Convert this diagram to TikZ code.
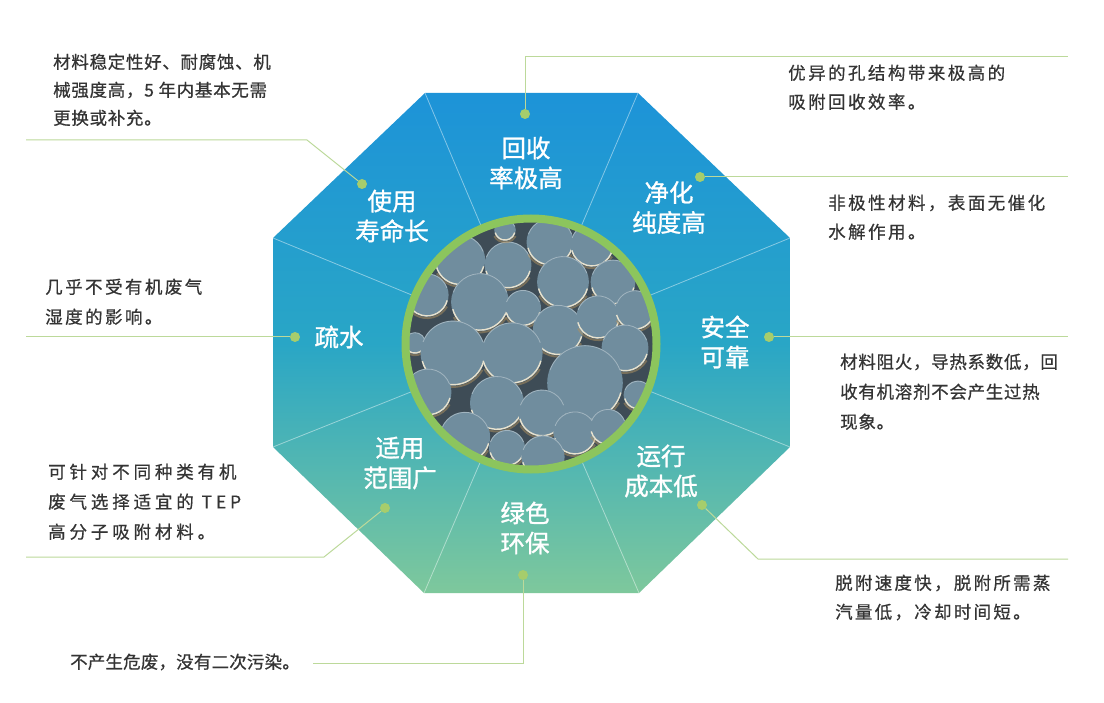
\documentclass[tikz,border=0pt]{standalone}
\usepackage{fontspec}
\setmainfont{Noto Sans CJK SC}
\definecolor{octtop}{RGB}{29,147,216}
\definecolor{octmid}{RGB}{41,166,198}
\definecolor{octbot}{RGB}{126,200,156}
\definecolor{photobg}{RGB}{62,76,86}
\definecolor{ballcol}{RGB}{112,141,158}
\definecolor{rimcol}{RGB}{232,226,206}
\definecolor{glowcol}{RGB}{176,146,96}
\definecolor{ringgreen}{RGB}{140,197,93}
\definecolor{dotgreen}{RGB}{166,205,108}
\definecolor{leadgreen}{RGB}{188,217,154}
\definecolor{desctext}{RGB}{52,52,52}
\newcommand{\descfont}[2]{\fontsize{17.5}{#2}\selectfont\addfontfeatures{LetterSpace=#1,FakeBold=0.6}}
\begin{document}
\begin{tikzpicture}[x=1pt,y=-1pt,
    lead/.style={draw=leadgreen, line width=1pt},
    bullet/.style={circle, fill=dotgreen, inner sep=0pt, minimum size=10pt},
    feat/.style={text=white, align=center, font=\fontsize{24.5}{30}\selectfont\addfontfeatures{FakeBold=1.2}},
    desc/.style={text=desctext, align=left, anchor=north west, inner sep=0pt},
    divider/.style={draw=white, draw opacity=.45, line width=.8pt}]
\fill[white] (0,0) rectangle (1104,703);
\useasboundingbox (0,0) rectangle (1104,703);

\coordinate (ctr) at (531,344);
\coordinate (o1) at (425,93);
\coordinate (o2) at (638,93);
\coordinate (o3) at (790,238);
\coordinate (o4) at (790,447);
\coordinate (o5) at (639,593);
\coordinate (o6) at (424,593);
\coordinate (o7) at (273,447);
\coordinate (o8) at (273,238);
\shade[top color=octtop, bottom color=octbot, middle color=octmid]
    (o1) -- (o2) -- (o3) -- (o4) -- (o5) -- (o6) -- (o7) -- (o8) -- cycle;
\foreach \i in {1,...,8}
    \draw[divider] (ctr) -- (o\i);

% photo of the beads
\begin{scope}
    \clip (ctr) circle (122);
    \fill[photobg] (ctr) circle (122);
    \foreach \x/\y/\s in {460/260/23.3, 508/265/21.7, 550/242/21.7, 592/245/20,
        505/230/10, 563/282/24, 613/282/20.7, 427/295/20, 480/302/26.7,
        523/308/16.7, 558/330/23.3, 598/317/20, 635/310/18.3, 415/343/10,
        453/353/30, 512/353/28.3, 625/348/21.7, 638/395/13.3, 585/383/35,
        428/392/21.7, 497/403/25, 542/413/21.7, 465/437/23.3, 575/433/20,
        608/427/16.7, 507/448/16.7, 543/457/20} {
        \pgfmathsetmacro{\r}{1.08*\s}
        \draw[glowcol, draw opacity=.5, line width=2pt] ([shift={(30:\r+1.5)}]\x,\y) arc (30:150:\r+1.5);
        \fill[ballcol] (\x,\y) circle (\r);
        \draw[white, draw opacity=.35, line width=.8pt] ([shift={(200:\r-.5)}]\x,\y) arc (200:340:\r-.5);
        \draw[rimcol, line width=1.4pt] ([shift={(15:\r-.7)}]\x,\y) arc (15:165:\r-.7);
    }
\end{scope}
\draw[ringgreen, line width=8pt] (ctr) circle (125.5);

\node[feat] (f1) at (526,163) {回收\\率极高};
\node[feat] (f2) at (669,207.5) {净化\\纯度高};
\node[feat] (f3) at (725,342) {安全\\可靠};
\node[feat] (f4) at (661,471) {运行\\成本低};
\node[feat] (f5) at (525,528) {绿色\\环保};
\node[feat] (f6) at (400,463) {适用\\范围广};
\node[feat] (f7) at (339,337) {疏水};
\node[feat] (f8) at (392,216) {使用\\寿命长};

\node[bullet] (p1) at (525,114) {};
\node[bullet] (p2) at (700,177) {};
\node[bullet] (p3) at (769,337) {};
\node[bullet] (p4) at (702,505) {};
\node[bullet] (p5) at (523,575) {};
\node[bullet] (p6) at (385,508) {};
\node[bullet] (p7) at (295,337) {};
\node[bullet] (p8) at (362,184) {};

\coordinate (b1) at (525,57);
\coordinate (e1) at (1068,57);
\coordinate (e2) at (1068,177);
\coordinate (e3) at (1068,337);
\coordinate (b4) at (758,559);
\coordinate (e4) at (1068,559);
\coordinate (b5) at (523,663);
\coordinate (e5) at (313,663);
\coordinate (b6) at (324,557);
\coordinate (e6) at (26,557);
\coordinate (e7) at (26,337);
\coordinate (b8) at (307,140);
\coordinate (e8) at (26,140);
\draw[lead] (p1) -- (b1) -- (e1);
\draw[lead] (p2) -- (e2);
\draw[lead] (p3) -- (e3);
\draw[lead] (p4) -- (b4) -- (e4);
\draw[lead] (p5) -- (b5) -- (e5);
\draw[lead] (p6) -- (b6) -- (e6);
\draw[lead] (p7) -- (e7);
\draw[lead] (p8) -- (b8) -- (e8);

\node[desc, font=\descfont{14}{29}] (t1) at (788,64.5) {优异的孔结构带来极高的\\吸附回收效率。};
\node[desc, font=\descfont{14}{29}] (t2) at (828,194.5) {非极性材料，表面无催化\\水解作用。};
\node[desc, font=\descfont{4}{30}] (t3) at (840,353.5) {材料阻火，导热系数低，回\\收有机溶剂不会产生过热\\现象。};
\node[desc, font=\descfont{13}{29}] (t4) at (835,574.5) {脱附速度快，脱附所需蒸\\汽量低，冷却时间短。};
\node[desc, font=\descfont{1}{29}] (t5) at (70,653.5) {不产生危废，没有二次污染。};
\node[desc, font=\descfont{22}{30}] (t6) at (48,463.5) {可针对不同种类有机\\废气选择适宜的 TEP\\高分子吸附材料。};
\node[desc, font=\descfont{14}{30}] (t7) at (45,278.5) {几乎不受有机废气\\湿度的影响。};
\node[desc, font=\descfont{4}{28}] (t8) at (53,53.5) {材料稳定性好、耐腐蚀、机\\械强度高，5 年内基本无需\\更换或补充。};
\end{tikzpicture}
\end{document}
